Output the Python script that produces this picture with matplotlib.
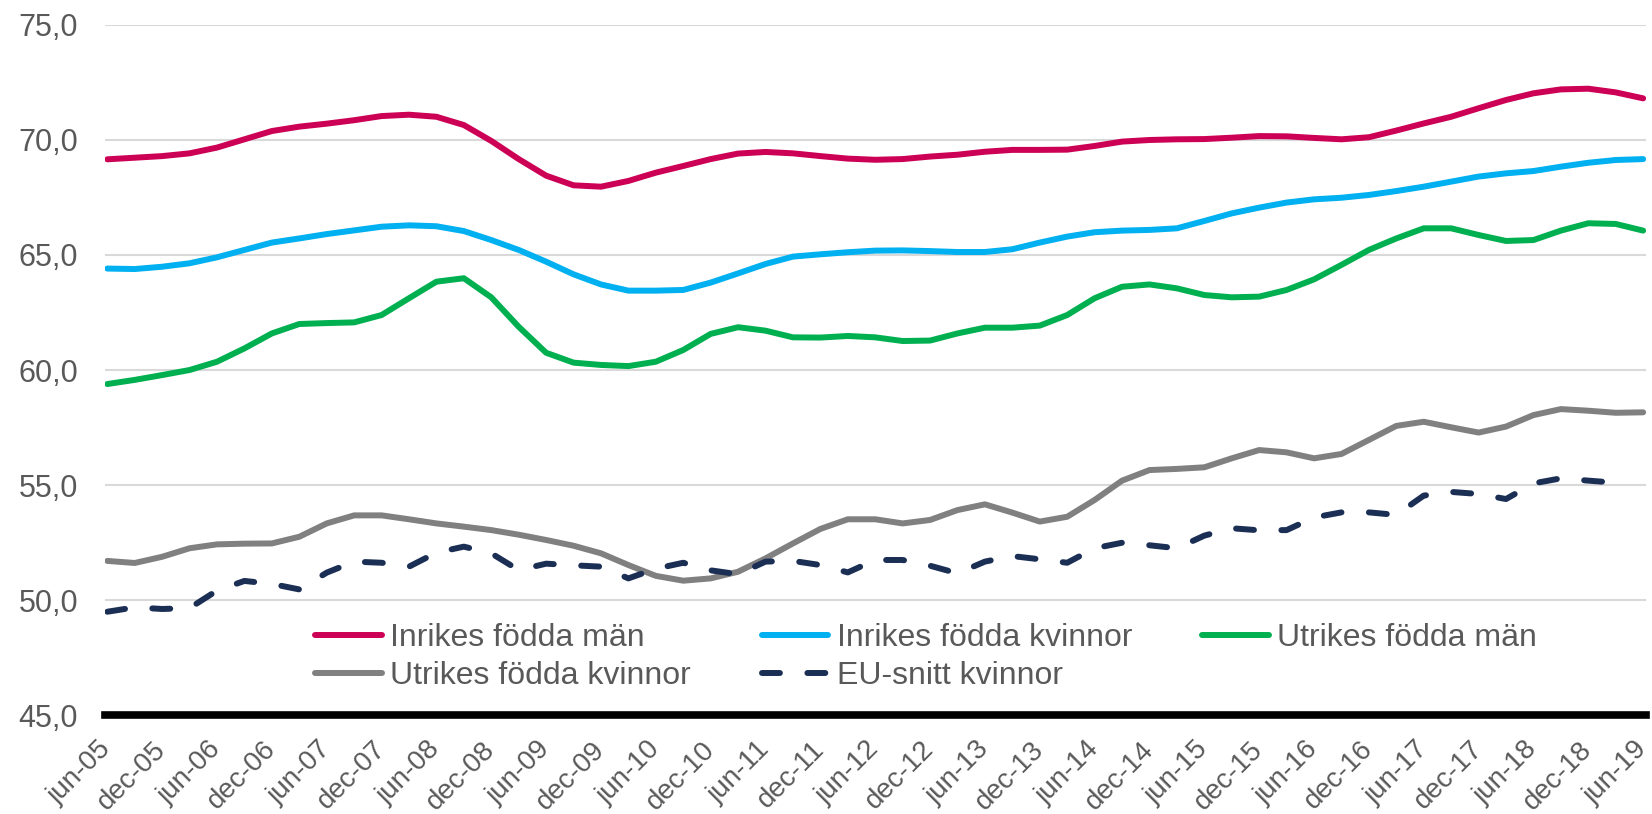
import numpy as np
import matplotlib
matplotlib.use("Agg")
import matplotlib.pyplot as plt

plt.rcParams['font.family'] = ['Liberation Sans', 'DejaVu Sans']

# quarterly values, jun-05 .. jun-19
inrikes_man = [69.16, 69.23, 69.30, 69.42, 69.67, 70.03, 70.39, 70.58, 70.71, 70.86,
               71.04, 71.10, 71.01, 70.65, 69.96, 69.17, 68.45, 68.03, 67.97, 68.22,
               68.58, 68.87, 69.17, 69.41, 69.48, 69.42, 69.30, 69.19, 69.14, 69.17,
               69.28, 69.36, 69.49, 69.57, 69.57, 69.58, 69.74, 69.93, 70.00, 70.03,
               70.04, 70.10, 70.17, 70.16, 70.09, 70.03, 70.12, 70.41, 70.72, 71.01,
               71.38, 71.74, 72.03, 72.20, 72.23, 72.07, 71.81]
inrikes_kv = [64.41, 64.39, 64.49, 64.64, 64.90, 65.22, 65.54, 65.72, 65.91, 66.07,
              66.23, 66.29, 66.25, 66.04, 65.65, 65.22, 64.71, 64.16, 63.72, 63.45,
              63.45, 63.48, 63.80, 64.20, 64.61, 64.93, 65.03, 65.12, 65.19, 65.20,
              65.17, 65.13, 65.13, 65.25, 65.54, 65.80, 65.99, 66.06, 66.09, 66.16,
              66.48, 66.81, 67.06, 67.28, 67.42, 67.49, 67.61, 67.78, 67.97, 68.19,
              68.41, 68.55, 68.65, 68.84, 69.01, 69.13, 69.17]
utrikes_man = [59.39, 59.57, 59.78, 60.00, 60.36, 60.94, 61.59, 62.00, 62.04, 62.07,
               62.39, 63.12, 63.84, 63.99, 63.16, 61.88, 60.75, 60.32, 60.22, 60.17,
               60.36, 60.87, 61.57, 61.86, 61.71, 61.42, 61.41, 61.48, 61.42, 61.26,
               61.28, 61.59, 61.84, 61.84, 61.93, 62.39, 63.12, 63.62, 63.72, 63.55,
               63.26, 63.16, 63.19, 63.48, 63.94, 64.57, 65.22, 65.72, 66.16, 66.16,
               65.87, 65.61, 65.65, 66.06, 66.38, 66.35, 66.06]
utrikes_kv = [51.70, 51.61, 51.88, 52.25, 52.42, 52.45, 52.46, 52.75, 53.33, 53.68,
              53.68, 53.51, 53.33, 53.19, 53.04, 52.84, 52.61, 52.36, 52.03, 51.52,
              51.05, 50.84, 50.94, 51.23, 51.81, 52.46, 53.09, 53.51, 53.51, 53.33,
              53.48, 53.91, 54.16, 53.80, 53.41, 53.62, 54.35, 55.19, 55.65, 55.70,
              55.77, 56.16, 56.52, 56.42, 56.16, 56.35, 56.96, 57.57, 57.75, 57.51,
              57.28, 57.54, 58.04, 58.30, 58.23, 58.14, 58.16]
eu_kv = [49.49, 49.68, 49.61, 49.65, 50.41, 50.83, 50.70, 50.46, 51.19, 51.67,
         51.62, 51.45, 52.06, 52.32, 52.03, 51.30, 51.58, 51.51, 51.45, 50.94,
         51.36, 51.62, 51.29, 51.12, 51.67, 51.70, 51.52, 51.20, 51.74, 51.74,
         51.49, 51.16, 51.67, 51.91, 51.77, 51.62, 52.25, 52.49, 52.38, 52.25,
         52.80, 53.12, 53.03, 53.04, 53.59, 53.81, 53.81, 53.70, 54.54, 54.70,
         54.61, 54.39, 55.07, 55.29, 55.19, 55.10]

tick_labels = []
for yr in range(5, 20):
    tick_labels.append('jun-%02d' % yr)
    if yr < 19:
        tick_labels.append('dec-%02d' % yr)

x = np.arange(len(inrikes_man))
x_eu = np.arange(len(eu_kv))

fig = plt.figure(figsize=(16.52, 8.14), dpi=100)
ax = fig.add_axes([0.0633, 0.1216, 0.933, 0.8477])

lw = 4.3
l1, = ax.plot(x, inrikes_man, color='#CC0055', lw=lw, solid_capstyle='round', solid_joinstyle='round')
l2, = ax.plot(x, inrikes_kv, color='#00B0F0', lw=lw, solid_capstyle='round', solid_joinstyle='round')
l3, = ax.plot(x, utrikes_man, color='#00B050', lw=lw, solid_capstyle='round', solid_joinstyle='round')
l4, = ax.plot(x, utrikes_kv, color='#808080', lw=lw, solid_capstyle='round', solid_joinstyle='round')
l5, = ax.plot(x_eu, eu_kv, color='#1B2F55', lw=lw, dashes=(3, 4.6), dash_capstyle='round')

ax.set_xlim(-0.1, 56.1)
ax.set_ylim(45, 75)
yt = np.arange(45, 76, 5)
ax.set_yticks(yt)
ax.set_yticklabels([('%.1f' % v).replace('.', ',') for v in yt])
ax.yaxis.grid(True, color='#D9D9D9', lw=1.5)
ax.set_axisbelow(True)
ax.axhline(45, color='black', lw=5.5, clip_on=False, zorder=5)

ax.set_xticks(np.arange(0, 57, 2))
ax.set_xticklabels(tick_labels, rotation=45, ha='right', va='center', rotation_mode='anchor')
ax.tick_params(axis='both', length=0, colors='#595959')
ax.tick_params(axis='y', labelsize=22, pad=19)
ax.tick_params(axis='x', labelsize=20, pad=22)
for s in ax.spines.values():
    s.set_visible(False)

handles = [l1, l4, l2, l5, l3]
labels = ['Inrikes födda män', 'Utrikes födda kvinnor', 'Inrikes födda kvinnor',
          'EU-snitt kvinnor', 'Utrikes födda män']
leg = ax.legend(handles, labels, ncol=3, frameon=False, fontsize=23,
                loc='upper left', bbox_to_anchor=(0.1368, 0.133), bbox_transform=ax.transAxes,
                handlelength=2.08, handletextpad=0.27, columnspacing=2.2, labelspacing=0.25,
                borderaxespad=0, borderpad=0)
for t in leg.get_texts():
    t.set_color('#595959')

fig.savefig('out.png', dpi=100)
